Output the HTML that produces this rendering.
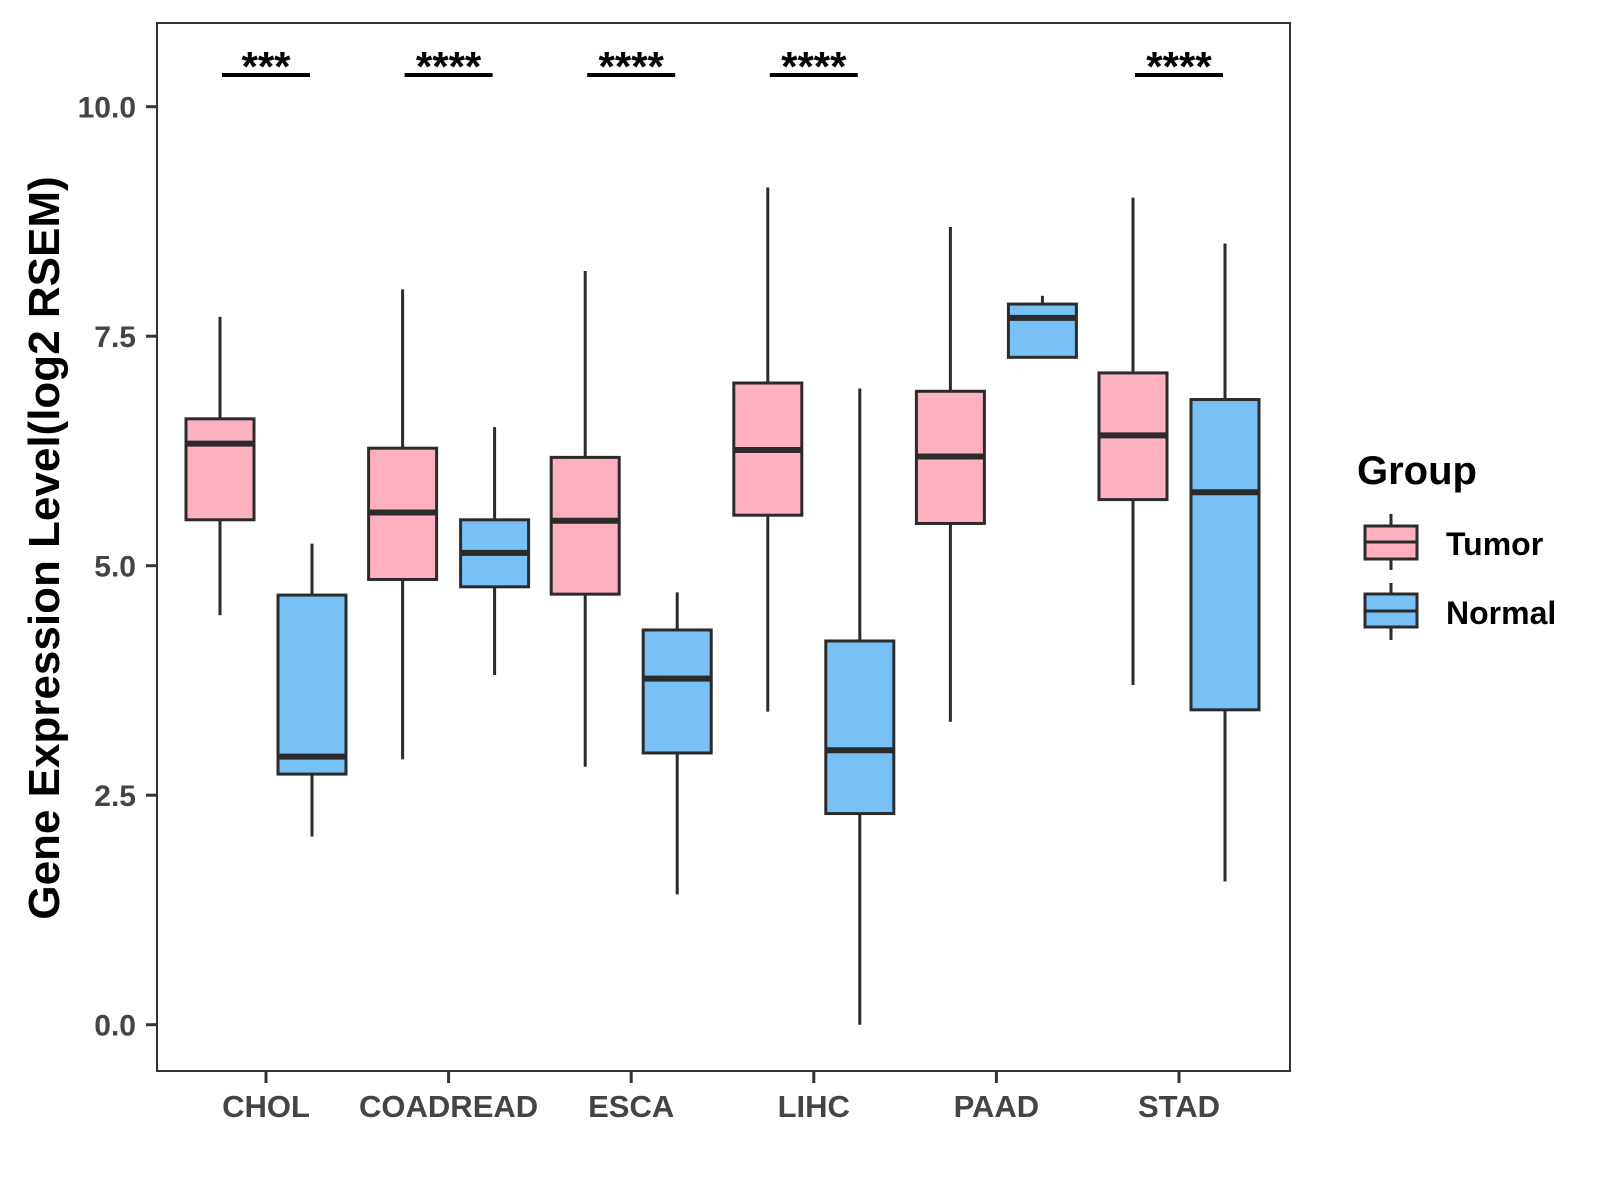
<!DOCTYPE html>
<html><head><meta charset="utf-8"><style>
body{margin:0;background:#fff}
svg{display:block;font-family:"Liberation Sans",Arial,sans-serif}
</style></head><body>
<svg id="chart" width="1600" height="1200" xmlns="http://www.w3.org/2000/svg">
<rect x="0" y="0" width="1600" height="1200" fill="#fff"/>
<g id="marks"></g>
<rect x="157" y="23" width="1133" height="1048" fill="none" stroke="#333" stroke-width="2"/>
<g id="axes"></g>
<text transform="translate(59,548) rotate(-90)" text-anchor="middle" font-size="44" font-weight="bold" fill="#000">Gene Expression Level(log2 RSEM)</text>
<g>
<text x="1357" y="484" font-size="40" font-weight="bold" fill="#000">Group</text>
<g>
<line x1="1391" y1="514" x2="1391" y2="570" stroke="#2b2b2b" stroke-width="3"/>
<rect x="1365" y="526" width="52" height="33" fill="#FDB0C0" stroke="#2b2b2b" stroke-width="3"/>
<line x1="1365" y1="542" x2="1417" y2="542" stroke="#2b2b2b" stroke-width="3"/>
<text x="1446" y="555" font-size="32" font-weight="bold" fill="#000">Tumor</text>
</g>
<g>
<line x1="1391" y1="583" x2="1391" y2="640" stroke="#2b2b2b" stroke-width="3"/>
<rect x="1365" y="594" width="52" height="33" fill="#77C1F7" stroke="#2b2b2b" stroke-width="3"/>
<line x1="1365" y1="611" x2="1417" y2="611" stroke="#2b2b2b" stroke-width="3"/>
<text x="1446" y="624" font-size="32" font-weight="bold" fill="#000">Normal</text>
</g>
</g>
</svg>
<script>
const categories = ["CHOL","COADREAD","ESCA","LIHC","PAAD","STAD"];
const tumorStats = [
 [4.46,5.50,6.33,6.60,7.71],
 [2.89,4.85,5.58,6.28,8.01],
 [2.81,4.69,5.49,6.18,8.21],
 [3.41,5.55,6.26,6.99,9.12],
 [3.30,5.46,6.19,6.90,8.69],
 [3.70,5.72,6.42,7.10,9.01]];
const normalStats = [
 [2.05,2.73,2.92,4.68,5.24],
 [3.81,4.77,5.14,5.50,6.51],
 [1.42,2.96,3.77,4.30,4.71],
 [0.00,2.30,2.99,4.18,6.93],
 [7.27,7.27,7.70,7.85,7.94],
 [1.56,3.43,5.80,6.81,8.51]];
const signif = ["***","****","****","****","","****"];
const yTicks = [0,2.5,5,7.5,10];
const yTickLabels = ["0.0","2.5","5.0","7.5","10.0"];

const NS="http://www.w3.org/2000/svg";
const Y=v=>1024.7-v*91.8;
const X=i=>266+i*182.6;
const marks=document.getElementById('marks'), axes=document.getElementById('axes');
function mk(tag,attrs,parent){const e=document.createElementNS(NS,tag);for(const k in attrs)e.setAttribute(k,attrs[k]);parent.appendChild(e);return e;}

function box(cx,s,fill,name){
  const g=mk('g',{},marks);
  
  
  mk('line',{x1:cx,x2:cx,y1:Y(s[4]),y2:Y(s[0]),stroke:'#2b2b2b','stroke-width':3},g);
  mk('rect',{x:cx-34,y:Y(s[3]),width:68,height:Y(s[1])-Y(s[3]),fill:fill,stroke:'#2b2b2b','stroke-width':3},g);
  mk('line',{x1:cx-34,x2:cx+34,y1:Y(s[2]),y2:Y(s[2]),stroke:'#2b2b2b','stroke-width':6},g);
}
categories.forEach((c,i)=>{
  box(X(i)-46,tumorStats[i],'#FDB0C0','box-tumor-'+c.toLowerCase());
  box(X(i)+46,normalStats[i],'#77C1F7','box-normal-'+c.toLowerCase());
  if(signif[i]){
    const g=mk('g',{},marks);
    
    
    mk('line',{x1:X(i)-44,x2:X(i)+44,y1:75,y2:75,stroke:'#000','stroke-width':4},g);
    const t=mk('text',{x:X(i),y:81,'text-anchor':'middle','font-size':42,'font-weight':'bold',fill:'#000'},g);
    t.textContent=signif[i];
  }
  mk('line',{x1:X(i),x2:X(i),y1:1071,y2:1083,stroke:'#333','stroke-width':3},axes);
  const t=mk('text',{x:X(i),y:1117,'text-anchor':'middle','font-size':31,'font-weight':'bold',fill:'#444'},axes);
  
  
  t.textContent=c;
});
yTicks.forEach((v,i)=>{
  mk('line',{x1:146,x2:157,y1:Y(v),y2:Y(v),stroke:'#333','stroke-width':3},axes);
  const t=mk('text',{x:136,y:Y(v)+11,'text-anchor':'end','font-size':30,'font-weight':'bold',fill:'#444'},axes);
  
  
  t.textContent=yTickLabels[i];
});
</script>
</body></html>
